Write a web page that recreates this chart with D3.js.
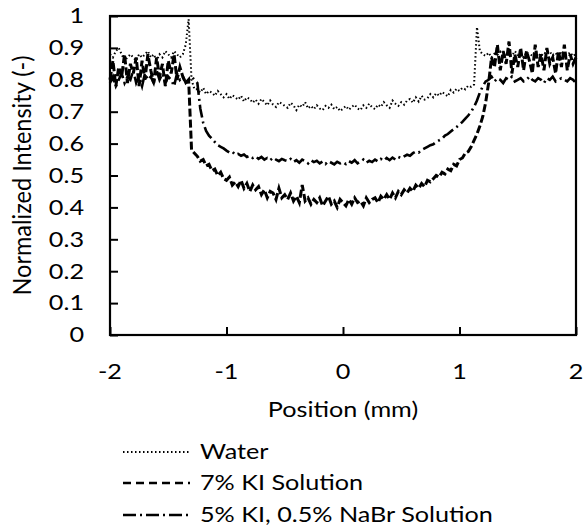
<!DOCTYPE html>
<html>
<head>
	<meta charset="utf-8">
	<title></title>
	<script src="https://d3js.org/d3.v7.min.js"></script>
	<style>
		body{ margin:0; background:#fff; }
		text{ font-family: Lato, "Open Sans", sans-serif; font-size:21px; fill:#000; }
	</style>
</head>
<body>
	<svg width='586' height='529'></svg>
</body>
<script>
	// sampling positions (mm)
	var position = [
		-2,-1.975,-1.95,-1.925,-1.9,-1.875,-1.85,-1.825,-1.8,-1.775,-1.75,-1.725,-1.7,-1.675,-1.65,-1.625,-1.6,-1.575,-1.55,-1.525,
		-1.5,-1.475,-1.45,-1.425,-1.4,-1.375,-1.35,-1.325,-1.3,-1.275,-1.25,-1.225,-1.2,-1.175,-1.15,-1.125,-1.1,-1.075,-1.05,-1.025,
		-1,-0.975,-0.95,-0.925,-0.9,-0.875,-0.85,-0.825,-0.8,-0.775,-0.75,-0.725,-0.7,-0.675,-0.65,-0.625,-0.6,-0.575,-0.55,-0.525,
		-0.5,-0.475,-0.45,-0.425,-0.4,-0.375,-0.35,-0.325,-0.3,-0.275,-0.25,-0.225,-0.2,-0.175,-0.15,-0.125,-0.1,-0.075,-0.05,-0.025,
		0,0.025,0.05,0.075,0.1,0.125,0.15,0.175,0.2,0.225,0.25,0.275,0.3,0.325,0.35,0.375,0.4,0.425,0.45,0.475,
		0.5,0.525,0.55,0.575,0.6,0.625,0.65,0.675,0.7,0.725,0.75,0.775,0.8,0.825,0.85,0.875,0.9,0.925,0.95,0.975,
		1,1.025,1.05,1.075,1.1,1.125,1.15,1.175,1.2,1.225,1.25,1.275,1.3,1.325,1.35,1.375,1.4,1.425,1.45,1.475,
		1.5,1.525,1.55,1.575,1.6,1.625,1.65,1.675,1.7,1.725,1.75,1.775,1.8,1.825,1.85,1.875,1.9,1.925,1.95,1.975,
		2
	];

	var water = [
		0.88,0.87,0.89,0.90,0.88,0.86,0.87,0.88,0.87,0.86,0.88,0.87,0.88,0.89,0.87,0.88,0.86,0.88,0.87,0.89,0.88,0.87,0.89,0.88,0.87,
		0.88,0.91,0.99,0.80,0.77,
		0.77,0.76,0.775,0.755,0.765,0.76,0.75,0.765,0.755,0.745,0.755,
		0.74,0.752,0.745,0.738,0.75,0.732,0.745,0.74,0.728,0.738,
		0.725,0.74,0.73,0.72,0.735,0.722,0.715,0.73,0.725,0.718,
		0.712,0.728,0.72,0.705,0.722,0.715,0.73,0.71,0.718,0.708,
		0.72,0.71,0.705,0.718,0.712,0.722,0.708,0.715,0.702,0.71,
		0.718,0.706,0.715,0.722,0.71,0.705,0.72,0.712,0.725,0.714,
		0.708,0.722,0.715,0.73,0.72,0.712,0.735,0.725,0.718,0.73,
		0.722,0.735,0.74,0.728,0.745,0.732,0.75,0.738,0.742,0.755,
		0.745,0.758,0.75,0.762,0.755,0.748,0.768,0.76,0.772,0.765,
		0.775,0.77,0.782,0.778,
		0.785,0.965,0.89,
		0.88,0.875,0.885,0.87,0.882,0.878,0.888,0.872,0.885,0.88,0.875,0.89,0.878,0.884,0.87,0.886,0.88,
		0.876,0.89,0.882,0.874,0.886,0.88,0.888,0.876,0.884,0.872,0.89,0.88,0.878,0.886,0.874,0.882
	];

	var ki7 = [
		0.80,0.86,0.78,0.84,0.81,0.88,0.79,0.85,0.82,0.87,0.78,0.86,0.80,0.88,0.83,0.79,0.87,0.81,0.85,0.78,0.86,0.82,0.88,0.80,0.84,0.81,0.79,
		0.80,0.58,0.57,
		0.56,0.545,0.55,0.53,0.535,0.515,0.52,0.50,0.51,0.49,0.485,
		0.495,0.47,0.48,0.465,0.485,0.46,0.475,0.45,0.47,0.455,
		0.465,0.44,0.455,0.43,0.45,0.445,0.425,0.46,0.43,0.44,
		0.425,0.445,0.42,0.435,0.415,0.47,0.42,0.43,0.41,0.425,
		0.415,0.43,0.405,0.42,0.435,0.41,0.42,0.40,0.425,0.415,
		0.405,0.425,0.41,0.43,0.415,0.42,0.405,0.43,0.415,0.425,
		0.43,0.415,0.435,0.425,0.44,0.425,0.445,0.43,0.45,0.44,
		0.455,0.445,0.46,0.45,0.47,0.46,0.475,0.465,0.485,0.48,
		0.49,0.50,0.495,0.51,0.505,0.52,0.515,0.535,0.53,0.55,
		0.555,0.57,0.575,0.59,
		0.61,0.63,0.655,0.685,0.73,0.79,0.87,
		0.84,0.91,0.83,0.89,0.85,0.92,0.82,0.88,0.84,0.90,0.83,0.89,0.86,0.82,0.91,
		0.84,0.88,0.83,0.90,0.85,0.87,0.82,0.89,0.84,0.91,0.83,0.88,0.85,0.87
	];

	var ki5nabr = [
		0.79,0.81,0.78,0.80,0.82,0.79,0.81,0.80,0.83,0.79,0.81,0.78,0.82,0.80,0.81,
		0.79,0.83,0.80,0.82,0.79,0.81,0.80,0.78,0.82,0.80,0.81,0.79,0.80,0.81,0.80,
		0.79,0.71,0.665,0.64,0.625,0.615,0.605,0.595,0.59,0.585,0.578,
		0.572,0.575,0.565,0.568,0.562,0.566,0.558,0.562,0.555,0.56,
		0.552,0.558,0.55,0.555,0.548,0.556,0.55,0.545,0.552,0.548,
		0.545,0.552,0.542,0.548,0.54,0.55,0.545,0.538,0.548,0.542,
		0.546,0.538,0.544,0.536,0.545,0.54,0.535,0.543,0.538,0.542,
		0.536,0.545,0.54,0.548,0.538,0.544,0.55,0.54,0.546,0.542,
		0.55,0.544,0.552,0.546,0.555,0.548,0.556,0.55,0.558,0.554,
		0.56,0.565,0.562,0.57,0.575,0.572,0.58,0.585,0.59,0.595,
		0.598,0.605,0.61,0.615,0.625,0.63,0.638,0.645,0.652,0.66,
		0.668,0.678,0.688,0.70,
		0.715,0.735,0.76,0.78,0.795,
		0.80,0.81,0.795,0.805,0.80,0.79,0.805,0.80,0.81,0.795,0.80,0.805,0.795,0.80,0.81,0.80,
		0.795,0.805,0.80,0.79,0.805,0.80,0.81,0.795,0.80,0.805,0.80,0.795,0.805,0.80,0.79
	];

	var seriesNames = ['Water', '7% KI Solution', '5% KI, 0.5% NaBr Solution'];
	var xTicks = [-2, -1, 0, 1, 2];
	var yTicks = [0, 0.1, 0.2, 0.3, 0.4, 0.5, 0.6, 0.7, 0.8, 0.9, 1];

	var svg = d3.select('svg');
	var plotL = 110, plotR = 576, plotT = 16, plotB = 335;
	var stretch = 1.2; // reference text is wider than tall

	var x = d3.scaleLinear().domain([-2, 2]).range([plotL, plotR]);
	var y = d3.scaleLinear().domain([0, 1]).range([plotB, plotT]);

	var styles = [
		{dash: '1.5,2.5', width: 2},
		{dash: '8,3', width: 3},
		{dash: '13,4,2,4', width: 2.6}
	];
	var legendDash = ['1.5,2.5', '8,5', '13,4,2,4'];
	var allSeries = [water, ki7, ki5nabr];

	var line = d3.line()
		.x(function(d){ return x(d[0]); })
		.y(function(d){ return y(d[1]); });

	var plot = svg.append('g');
	allSeries.forEach(function(vals, k){
		var pts = position.map(function(p, i){ return [p, vals[i]]; });
		plot.append('path')
			.datum(pts)
			.attr('d', line)
			.attr('fill', 'none')
			.attr('stroke', '#000')
			.attr('stroke-width', styles[k].width)
			.attr('stroke-dasharray', styles[k].dash);
	});

	// frame
	svg.append('rect')
		.attr('x', plotL).attr('y', plotT)
		.attr('width', plotR - plotL).attr('height', plotB - plotT)
		.attr('fill', 'none').attr('stroke', '#000').attr('stroke-width', 2.2);

	// axes with inward ticks
	var xAxis = svg.append('g')
		.attr('transform', 'translate(0,' + plotB + ')')
		.call(d3.axisTop(x).tickValues(xTicks).tickSize(8).tickFormat(''));
	xAxis.select('.domain').remove();
	xAxis.selectAll('line').attr('stroke-width', 2);

	var yAxis = svg.append('g')
		.attr('transform', 'translate(' + plotL + ',0)')
		.call(d3.axisRight(y).tickValues(yTicks).tickSize(8).tickFormat(''));
	yAxis.select('.domain').remove();
	yAxis.selectAll('line').attr('stroke-width', 2);

	function place(px, py){ return 'translate(' + px + ',' + py + ') scale(' + stretch + ',1)'; }

	svg.selectAll('.xlab').data(xTicks).enter().append('text')
		.attr('transform', function(d){ return place(x(d), 372); })
		.attr('dy', '0.35em')
		.attr('text-anchor', 'middle')
		.text(function(d){ return d; });

	svg.selectAll('.ylab').data(yTicks).enter().append('text')
		.attr('transform', function(d){ return place(84, y(d)); })
		.attr('dy', '0.35em')
		.attr('text-anchor', 'end')
		.text(function(d){ return d; });

	svg.append('text')
		.attr('transform', place((plotL + plotR) / 2, 410))
		.attr('dy', '0.35em')
		.attr('text-anchor', 'middle')
		.text('Position (mm)');

	svg.append('text')
		.attr('transform', 'translate(23,' + ((plotT + plotB) / 2) + ') rotate(-90) scale(1.12,1.15)')
		.attr('dy', '0.35em')
		.attr('text-anchor', 'middle')
		.text('Normalized Intensity (-)');

	// legend
	var legendY = [452, 483, 515];
	var legend = svg.selectAll('.legend').data(seriesNames).enter().append('g')
		.attr('transform', function(d, i){ return 'translate(0,' + legendY[i] + ')'; });
	legend.append('line')
		.attr('x1', 123).attr('x2', 190)
		.attr('stroke', '#000')
		.attr('stroke-width', function(d, i){ return i === 0 ? 2 : 2.6; })
		.attr('stroke-dasharray', function(d, i){ return legendDash[i]; });
	legend.append('text')
		.attr('transform', place(200, 0))
		.attr('dy', '0.35em')
		.text(function(d){ return d; });
</script>
</html>
